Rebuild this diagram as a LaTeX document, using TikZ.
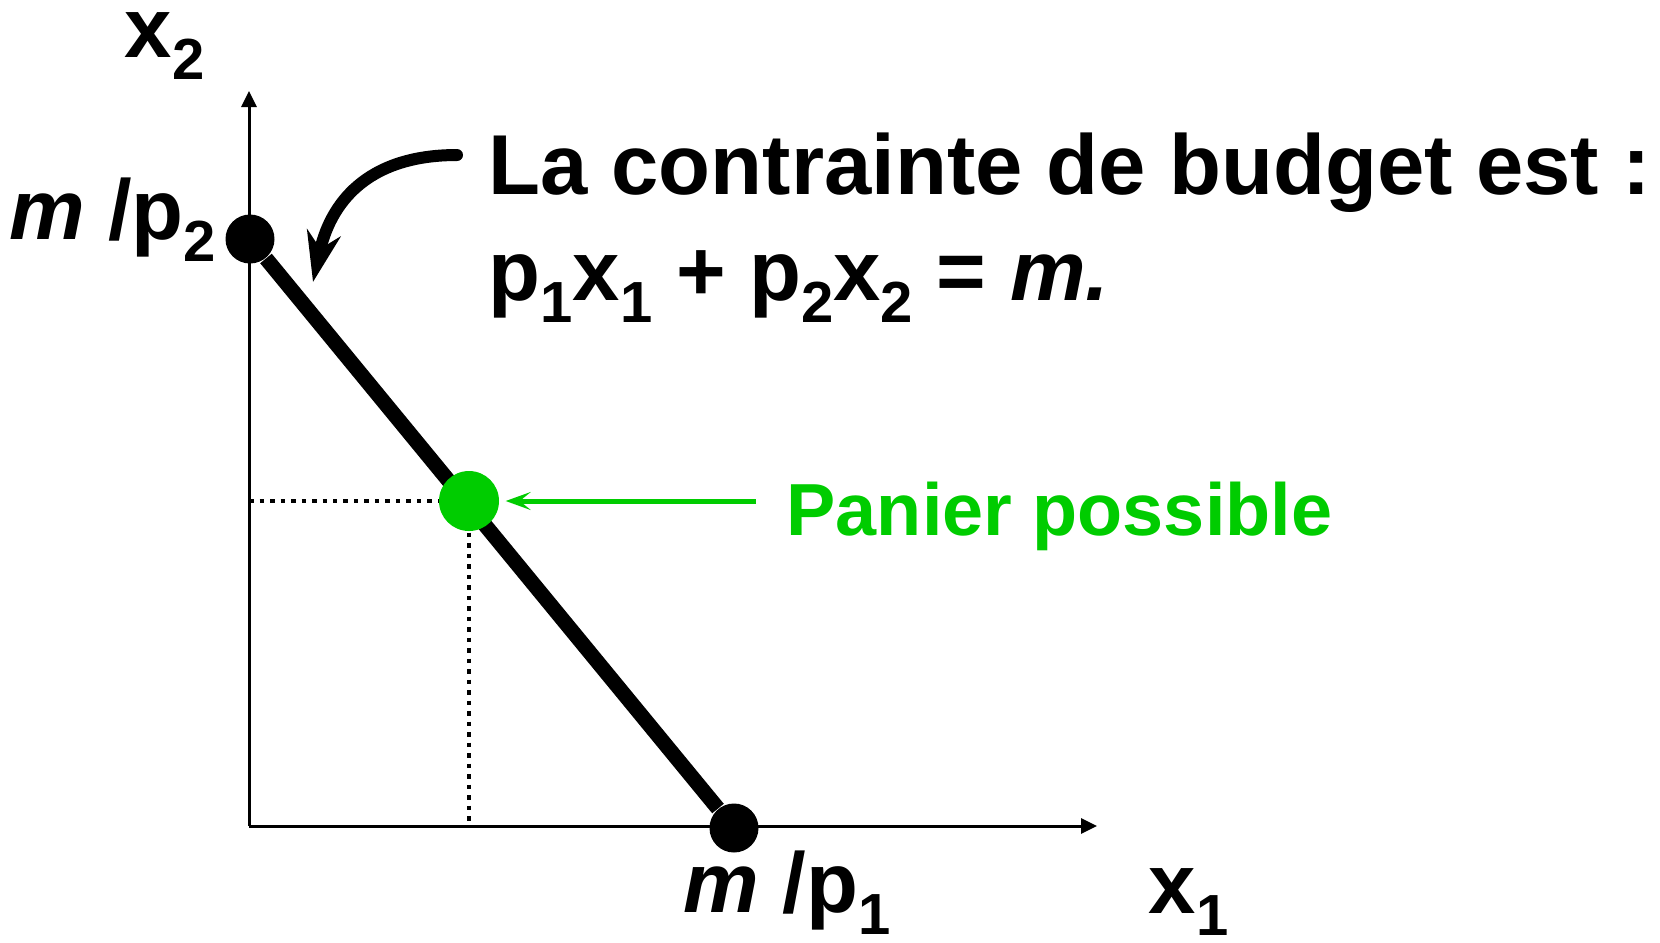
\documentclass[tikz,border=0pt]{standalone}
\usepackage{fontspec}
\setmainfont{Liberation Sans}
\usetikzlibrary{arrows.meta, positioning, calc}
\definecolor{leaf}{HTML}{00CC00}
\newcommand{\bsub}[1]{\raisebox{-0.26em}{\fontsize{16.5}{17}\selectfont #1}}

\begin{document}
\begin{tikzpicture}[
  x=0.1mm, y=-0.1mm,
  font=\bfseries\fontsize{24.2}{28}\selectfont,
  t/.style={inner sep=0pt, anchor=base west},
  dot/.style={circle, fill=black, inner sep=0pt, minimum size=4.9mm},
  ax/.style={line width=0.3mm, -{Triangle[length=1.6mm, width=1.5mm]}},
  dots/.style={line width=0.45mm, dash pattern=on 0.45mm off 0.6mm},
  ar/.style={line width=1.2mm, line cap=round, -{Stealth[length=5mm, width=3.4mm, inset=1.6mm]}},
  gar/.style={draw=leaf, line width=0.5mm, -{Stealth[length=2.5mm, width=1.8mm, inset=1.1mm]}}]

\useasboundingbox (0,0) rectangle (1660,942);
\coordinate (o) at (249,826);
\coordinate (ytop) at (249,91);
\coordinate (xend) at (1097,826);
\node[dot] (a) at (250,239) {};
\node[dot] (b) at (734,828) {};
\coordinate (g) at (469,501);

\draw[ax] (o) -- (ytop);
\draw[ax] (o) -- (xend);
\draw[dots] (o |- g) -- (g);
\draw[dots] (g) -- (g |- o);
\draw[line width=1.5mm] (a) -- (b);
\node[dot, fill=leaf, minimum size=6mm] (gd) at (g) {};

\node[t] (x2lab) at (124,57) {x\bsub{2}};
\node[t, anchor=base east] (ylab) at ([xshift=-0.8mm]a.west) {{\itshape m} /p\bsub{2}};
\node[t] (xlab) at (683,912) {{\itshape m} /p\bsub{1}};
\node[t] (x1lab) at (1148,913) {x\bsub{1}};

\node[t] (t1) at (488,194) {La contrainte de budget est :};
\node[t] (t2) at (488,300) {p\bsub{1}x\bsub{1} + p\bsub{2}x\bsub{2} = {\itshape m.}};
\coordinate (cs) at (457,155);
\coordinate (ce) at (313,282);
\draw[ar] (cs) .. controls (365,155) and (330,205) .. (ce);

\node[t, text=leaf, font=\bfseries\fontsize{21}{24}\selectfont] (pan) at (786,535) {Panier possible};
\draw[gar, shorten <=3mm, shorten >=0.6mm] (pan.west |- gd) -- (gd.east);
\end{tikzpicture}
\end{document}
